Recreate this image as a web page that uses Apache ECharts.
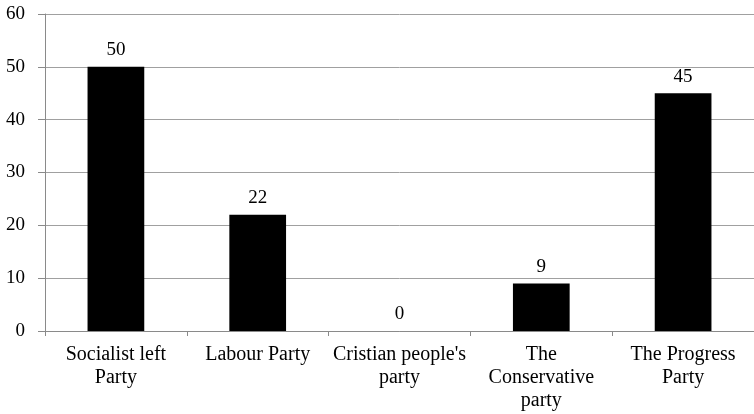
<!DOCTYPE html>
<html>
<head>
<meta charset="utf-8">
<script src="https://cdn.jsdelivr.net/npm/echarts@6/dist/echarts.min.js"></script>
<style>
html,body{margin:0;padding:0;background:#fff;}
#chart{width:754px;height:414px;}
</style>
</head>
<body>
<div id="chart"></div>
<script>
const categories = ["Socialist left\nParty", "Labour Party", "Cristian people's\nparty", "The\nConservative\nparty", "The Progress\nParty"];
const values = [50, 22, 0, 9, 45];
const yTicks = { min: 0, max: 60, interval: 10 };

const FONT = '"Liberation Serif", "Times New Roman", serif';
const chart = echarts.init(document.getElementById('chart'), null, { renderer: 'canvas' });
chart.setOption({
  animation: false,
  backgroundColor: '#ffffff',
  grid: { left: 45, right: -4, top: 14, bottom: 83, containLabel: false },
  xAxis: {
    type: 'category',
    data: categories,
    axisLine: { show: true, lineStyle: { color: '#8a8a8a', width: 1 } },
    axisTick: { show: true, length: 5, alignWithLabel: false, lineStyle: { color: '#8a8a8a' } },
    axisLabel: {
      interval: 0,
      margin: 12,
      color: '#000',
      fontFamily: FONT,
      fontSize: 20,
      lineHeight: 23
    },
    splitLine: { show: false }
  },
  yAxis: {
    type: 'value',
    min: yTicks.min,
    max: yTicks.max,
    interval: yTicks.interval,
    axisLine: { show: true, lineStyle: { color: '#8a8a8a', width: 1 } },
    axisTick: { show: true, length: 7, lineStyle: { color: '#8a8a8a' } },
    axisLabel: {
      margin: 20,
      color: '#000',
      fontFamily: FONT,
      fontSize: 19
    },
    splitLine: { show: true, lineStyle: { color: '#a0a0a0', width: 1 } }
  },
  series: [{
    type: 'bar',
    data: values,
    barCategoryGap: '60%',
    itemStyle: { color: '#000000' },
    label: {
      show: true,
      position: 'top',
      distance: 7,
      color: '#000',
      fontFamily: FONT,
      fontSize: 19
    }
  }]
});
</script>
</body>
</html>
